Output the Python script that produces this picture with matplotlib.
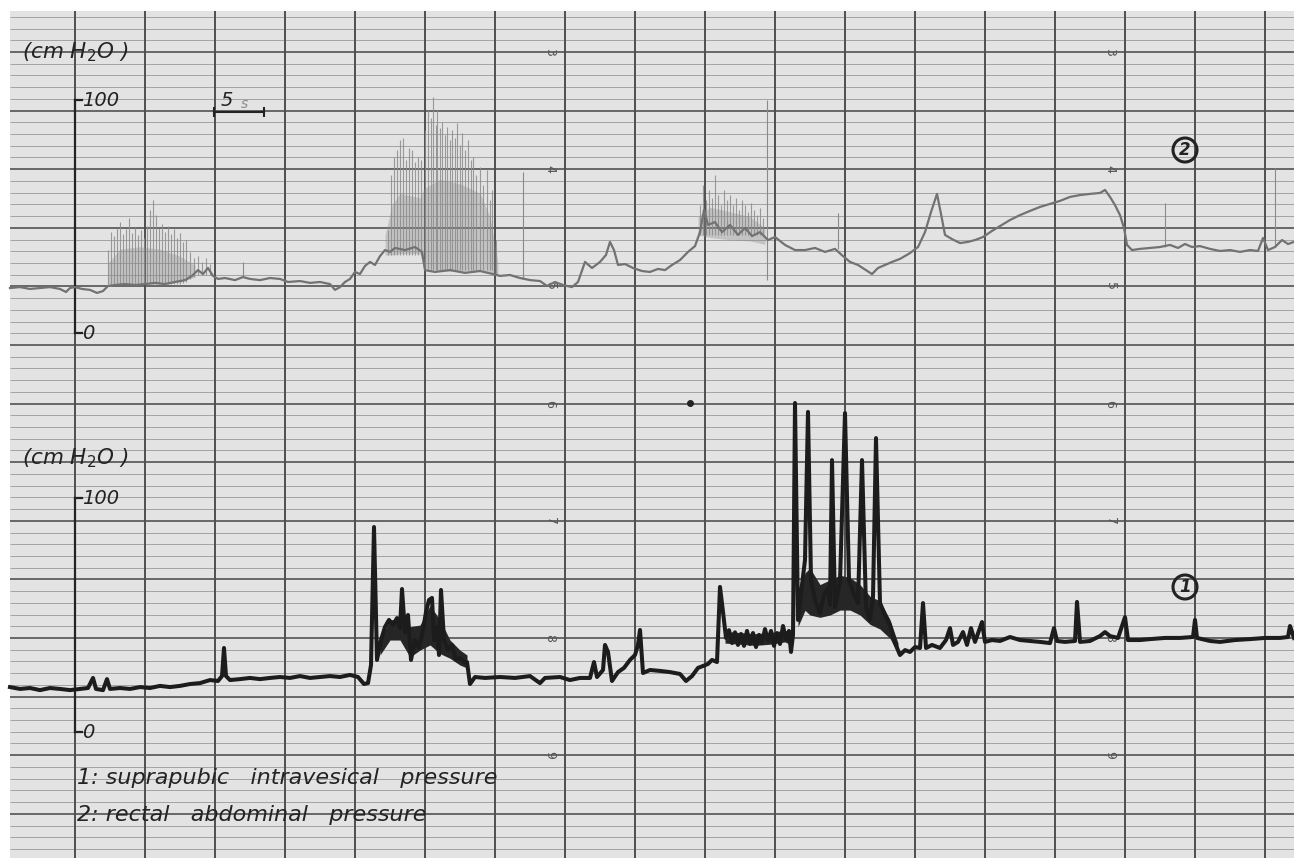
import numpy as np
import matplotlib.pyplot as plt
from matplotlib.patches import Rectangle, Circle

# Recorder strip. Time in s, pressure in cm H2O.

# channel 2: rectal abdominal pressure (grey pen)
rectal_trace = [
    (1.0, 19.3), (2.0, 19.7), (3.0, 18.9), (4.0, 19.3), (5.0, 19.7), (6.0, 18.9), (6.6, 17.6),
    (7.0, 19.3), (7.5, 19.7), (8.2, 18.9), (9.0, 18.5), (9.7, 17.2), (10.3, 18.0), (10.8, 20.2),
    (11.5, 20.6), (12.5, 21.0), (13.5, 20.6), (14.5, 21.0), (15.5, 21.5), (16.5, 21.0), (17.5, 21.9),
    (18.5, 22.7), (19.2, 24.5), (19.8, 27.0), (20.3, 25.3), (20.8, 27.9), (21.3, 24.5), (21.8, 23.2),
    (22.5, 23.6), (23.5, 22.7), (24.3, 24.0), (25.0, 23.2), (26.0, 22.7), (27.0, 23.6), (28.0, 23.2),
    (28.8, 21.9), (30.0, 22.3), (31.0, 21.5), (32.0, 21.9), (33.0, 21.0), (33.5, 18.5), (34.0, 19.7),
    (34.5, 21.9), (35.0, 23.2), (35.5, 26.2), (36.0, 25.3), (36.5, 28.8), (37.0, 30.5), (37.5, 29.2),
    (38.0, 33.0), (38.5, 35.6), (39.0, 34.8), (39.5, 36.5), (40.5, 35.6), (41.5, 36.9), (42.2, 34.8),
    (42.5, 27.0), (43.5, 26.2), (45.0, 27.0), (46.5, 25.8), (48.0, 26.6), (49.3, 25.3), (50.0, 24.5),
    (51.0, 24.9), (52.0, 23.6), (53.0, 22.7), (54.0, 22.3), (54.7, 20.2), (55.5, 21.9), (56.3, 20.6),
    (57.2, 19.7), (57.8, 21.9), (58.5, 30.5), (59.2, 27.9), (60.0, 30.5), (60.6, 33.5), (61.0, 39.1),
    (61.4, 35.6), (61.8, 29.2), (62.5, 29.6), (63.3, 27.9), (64.2, 26.6), (65.0, 26.2), (65.8, 27.5),
    (66.5, 27.0), (67.2, 29.2), (68.0, 31.3), (68.8, 34.8), (69.5, 37.3), (70.0, 43.3), (70.4, 52.8),
    (70.8, 46.4), (71.5, 47.6), (72.2, 43.3), (73.0, 46.4), (73.8, 42.1), (74.5, 45.1), (75.2, 41.6),
    (76.0, 43.3), (76.8, 39.9), (77.5, 41.2), (78.5, 37.8), (79.5, 35.6), (80.5, 35.6), (81.5, 36.5),
    (82.5, 34.8), (83.5, 36.1), (84.3, 33.0), (85.0, 30.5), (85.8, 29.2), (86.6, 27.0), (87.2, 25.3),
    (87.8, 27.9), (88.5, 29.2), (89.2, 30.5), (90.0, 31.8), (91.0, 34.3), (91.8, 36.9), (92.5, 43.3),
    (93.1, 51.9), (93.7, 59.7), (94.1, 51.1), (94.5, 42.1), (95.2, 40.3), (96.0, 38.6), (96.8, 39.1),
    (97.5, 39.9), (98.3, 41.2), (99.2, 43.8), (100.0, 45.9), (101.0, 48.5), (102.0, 50.6), (103.0, 52.4),
    (104.0, 54.1), (105.0, 55.4), (106.0, 56.7), (107.0, 58.4), (108.0, 59.2), (109.0, 59.7),
    (110.0, 60.1), (110.5, 61.4), (111.0, 58.4), (111.5, 54.9), (112.0, 50.6), (112.4, 45.1),
    (112.7, 37.8), (113.2, 35.6), (114.0, 36.1), (115.0, 36.5), (116.0, 36.9), (117.0, 37.8),
    (117.8, 36.5), (118.5, 38.2), (119.2, 36.9), (120.0, 37.3), (121.0, 36.1), (122.0, 35.2),
    (123.0, 35.6), (124.0, 34.8), (125.0, 35.6), (125.8, 35.2), (126.3, 40.8), (126.8, 35.6),
    (127.5, 36.9), (128.2, 39.9), (128.8, 38.2), (129.4, 39.1),
]

# dense lower body (t, low, high) of the fast oscillation episodes on channel 2
rectal_bursts = [
    [(10.8, 20.2, 30.0), (12.0, 21.0, 36.0), (14.0, 21.0, 37.0), (16.0, 21.0, 36.0), (18.0, 21.9, 33.0),
     (19.5, 24.0, 29.0)],
    [(38.5, 33.5, 42.0), (39.2, 33.5, 55.0), (40.0, 34.0, 60.0), (42.0, 34.0, 58.0), (42.4, 28.0, 62.0),
     (44.0, 26.5, 66.0), (46.0, 26.5, 64.0), (48.0, 26.5, 60.0), (49.0, 26.0, 50.0), (49.8, 25.0, 30.0)],
    [(69.8, 42.1, 50.0), (71.0, 41.0, 54.0), (73.0, 40.0, 52.0), (75.0, 39.5, 50.0), (76.5, 38.0, 45.0)],
]

# individual pen strokes of the oscillations on channel 2: (t, low, high)
rectal_strokes = [
    (10.8, 21.0, 35.6), (11.1, 21.0, 43.3), (11.4, 21.0, 41.6), (11.7, 21.0, 45.1), (12.0, 21.0, 47.6),
    (12.3, 21.0, 42.5), (12.6, 21.0, 44.6), (12.9, 21.0, 49.4), (13.2, 21.0, 42.9), (13.5, 21.0, 45.5),
    (13.8, 21.0, 42.1), (14.1, 21.0, 44.2), (14.4, 21.0, 40.8), (14.7, 21.0, 45.9), (15.0, 21.0, 52.8),
    (15.3, 21.0, 57.1), (15.6, 21.0, 50.6), (15.9, 21.0, 45.1), (16.2, 21.0, 46.8), (16.5, 21.0, 43.3),
    (16.8, 21.0, 45.9), (17.1, 21.0, 42.5), (17.4, 21.0, 44.6), (17.7, 21.0, 40.8), (18.0, 21.0, 42.9),
    (18.3, 21.5, 39.1), (18.6, 22.0, 39.9), (19.0, 23.0, 34.8), (19.4, 24.0, 32.2), (19.8, 24.9, 33.0),
    (20.2, 24.9, 30.5), (20.6, 24.9, 32.2), (21.0, 24.9, 29.6),
    (38.8, 33.5, 44.2), (39.1, 33.5, 67.8), (39.4, 33.5, 75.5), (39.7, 33.5, 78.5), (40.0, 33.5, 82.8),
    (40.3, 33.5, 83.7), (40.6, 33.5, 74.2), (40.9, 33.5, 79.4), (41.2, 33.5, 78.5), (41.5, 33.5, 73.4),
    (41.8, 33.5, 75.5), (42.1, 33.5, 74.2), (42.5, 27.0, 87.1), (42.8, 27.0, 95.7), (43.1, 27.0, 92.3),
    (43.3, 27.0, 101.3), (43.6, 27.0, 89.3), (43.7, 27.0, 95.7), (44.0, 27.0, 88.0), (44.2, 27.0, 90.6),
    (44.5, 27.0, 85.0), (44.7, 27.0, 88.4), (45.0, 27.0, 82.8), (45.2, 27.0, 87.1), (45.5, 27.0, 83.7),
    (45.7, 27.0, 90.1), (46.0, 27.0, 80.7), (46.2, 27.0, 85.8), (46.5, 27.0, 78.5), (46.8, 27.0, 82.8),
    (47.1, 27.0, 74.2), (47.3, 27.0, 75.5), (47.6, 27.0, 67.8), (48.0, 27.0, 71.2), (48.3, 27.0, 63.5),
    (48.7, 27.0, 70.0), (49.0, 27.0, 57.1), (49.2, 27.0, 61.4), (49.6, 25.0, 39.9),
    (70.0, 42.1, 54.9), (70.3, 42.1, 63.5), (70.6, 42.1, 57.1), (70.9, 42.1, 61.4), (71.2, 42.1, 57.9),
    (71.5, 42.1, 67.8), (71.8, 42.1, 59.2), (72.1, 42.1, 54.9), (72.4, 42.1, 61.4), (72.7, 42.1, 57.1),
    (73.0, 42.1, 59.2), (73.3, 42.1, 54.9), (73.6, 42.1, 57.9), (73.9, 42.1, 52.8), (74.2, 42.1, 57.1),
    (74.5, 42.1, 54.9), (74.8, 42.1, 51.9), (75.1, 42.1, 55.8), (75.4, 42.1, 52.8), (75.7, 42.1, 50.6),
    (76.0, 42.1, 53.6), (76.3, 42.1, 49.4),
]

# isolated pen strokes on channel 2: (t, low, high)
rectal_spikes = [
    (24.3, 24.0, 30.5), (52.3, 23.6, 69.1), (76.7, 22.7, 100.0), (83.8, 36.1, 51.5),
    (116.5, 36.9, 55.8), (127.5, 36.9, 70.8),
]

# channel 1: suprapubic intravesical pressure (black pen)
vesical_trace = [
    (1.0, 19.2), (2.0, 18.4), (3.0, 18.8), (4.0, 17.9), (5.0, 18.8), (6.0, 18.4), (7.0, 17.9), (8.0, 18.4),
    (8.8, 18.8), (9.3, 23.1), (9.6, 18.4), (10.3, 17.9), (10.7, 22.6), (11.0, 18.4), (12.0, 18.8),
    (13.0, 18.4), (14.0, 19.2), (15.0, 18.8), (16.0, 19.7), (17.0, 19.2), (18.0, 19.7), (19.0, 20.5),
    (20.0, 20.9), (21.0, 22.2), (21.8, 21.8), (22.2, 23.9), (22.4, 35.9), (22.6, 23.9), (23.0, 22.2),
    (24.0, 22.6), (25.0, 23.1), (26.0, 22.6), (27.0, 23.1), (28.0, 23.5), (29.0, 23.1), (30.0, 23.9),
    (31.0, 23.1), (32.0, 23.5), (33.0, 23.9), (34.0, 23.5), (35.0, 24.4), (35.8, 23.5), (36.4, 20.5),
    (36.8, 20.9), (37.1, 28.6), (37.4, 87.6), (37.7, 30.8), (38.1, 39.3), (38.5, 44.9), (38.9, 47.9),
    (39.3, 45.7), (39.7, 48.7), (40.0, 44.4), (40.2, 61.1), (40.5, 42.7), (40.8, 50.0), (41.1, 30.8),
    (41.5, 39.3), (41.9, 35.9), (42.3, 43.6), (42.6, 51.3), (42.9, 56.4), (43.2, 57.3), (43.4, 39.3),
    (43.7, 44.9), (43.9, 32.9), (44.1, 60.7), (44.4, 39.3), (44.8, 35.0), (45.2, 37.2), (45.6, 30.8),
    (46.0, 31.6), (46.4, 29.9), (46.7, 29.9), (47.0, 20.5), (47.5, 23.5), (48.5, 23.1), (50.0, 23.5),
    (51.5, 23.1), (53.0, 23.9), (54.0, 20.9), (54.5, 23.1), (56.0, 23.5), (57.0, 22.2), (58.0, 23.1),
    (59.0, 23.1), (59.4, 29.9), (59.7, 23.5), (60.3, 26.5), (60.5, 37.2), (60.8, 34.2), (61.2, 21.8),
    (61.8, 25.6), (62.4, 27.4), (63.0, 30.8), (63.5, 32.9), (63.8, 37.2), (64.0, 43.6), (64.3, 25.2),
    (65.0, 26.5), (66.0, 26.1), (67.0, 25.6), (68.0, 24.8), (68.6, 21.8), (69.2, 23.9), (69.8, 27.4),
    (70.3, 28.2), (70.8, 29.1), (71.2, 30.8), (71.7, 29.9), (72.0, 62.0), (72.3, 51.3), (72.6, 40.2),
    (72.9, 43.5), (73.2, 38.0), (73.5, 42.6), (73.8, 37.2), (74.1, 41.9), (74.4, 36.8), (74.7, 43.2),
    (75.0, 37.6), (75.3, 42.3), (75.6, 36.3), (75.9, 41.5), (76.2, 38.0), (76.5, 44.0), (76.8, 38.9),
    (77.1, 43.2), (77.4, 36.8), (77.7, 42.3), (78.0, 37.6), (78.3, 45.3), (78.6, 39.7), (78.9, 43.2),
    (79.1, 34.2), (79.3, 41.5),
    (79.5, 140.6), (79.8, 47.9), (80.2, 62.8), (80.5, 73.5), (80.8, 136.8), (81.1, 65.0), (81.5, 56.4),
    (82.0, 50.9), (82.4, 58.5), (82.8, 61.5), (83.0, 54.3), (83.2, 116.2), (83.5, 53.4), (84.0, 64.1),
    (84.5, 136.3), (84.9, 65.0), (85.3, 59.8), (85.8, 55.1), (86.2, 116.2), (86.6, 53.4), (87.0, 47.9),
    (87.3, 57.7), (87.6, 125.6), (88.0, 55.1), (88.5, 50.0), (89.0, 45.7), (89.5, 38.0), (90.0, 32.9),
    (90.5, 35.0), (91.0, 34.2), (91.5, 36.3), (92.0, 35.9), (92.3, 55.1), (92.6, 35.9), (93.2, 37.2),
    (94.0, 35.9), (94.6, 39.3), (95.0, 44.4), (95.3, 37.2), (95.8, 38.5), (96.3, 42.7), (96.7, 37.2),
    (97.1, 44.4), (97.5, 38.5), (98.2, 47.0), (98.5, 38.5), (99.2, 39.3), (100.0, 38.9), (101.0, 40.6),
    (102.0, 39.3), (103.0, 38.9), (104.0, 38.5), (105.0, 38.0), (105.4, 44.4), (105.7, 38.9),
    (106.5, 38.5), (107.5, 38.9), (107.7, 55.6), (108.0, 38.5), (109.0, 38.9), (110.0, 41.0),
    (110.5, 42.7), (111.0, 41.0), (111.8, 40.2), (112.5, 49.1), (112.8, 39.3), (114.0, 39.3),
    (115.0, 39.7), (116.5, 40.2), (118.0, 40.2), (119.3, 40.6), (119.5, 47.9), (119.7, 40.2),
    (121.0, 38.9), (122.0, 38.5), (123.5, 39.3), (125.0, 39.7), (126.5, 40.2), (128.0, 40.2),
    (128.8, 40.6), (129.0, 45.3), (129.4, 40.2),
]

# dark body (t, low, high) of the noisy episodes on channel 1
vesical_bursts = [
    [(38.0, 32.9, 39.3), (39.0, 39.3, 48.0), (40.0, 39.3, 48.0), (41.0, 32.0, 45.0), (42.0, 35.0, 45.7),
     (43.0, 37.2, 54.0), (44.0, 33.5, 48.0), (45.0, 31.5, 39.3), (46.0, 28.6, 35.0), (46.7, 27.4, 32.9)],
    [(72.5, 38.0, 43.0), (74.0, 37.5, 42.5), (75.5, 37.0, 42.0), (77.0, 37.5, 42.5), (78.5, 38.5, 43.5),
     (79.2, 37.0, 42.0)],
    [(79.8, 45.0, 55.0), (80.5, 52.0, 68.0), (81.0, 50.0, 70.0), (82.0, 49.0, 63.0), (83.0, 50.0, 65.0),
     (84.0, 52.1, 67.0), (85.0, 52.1, 66.0), (86.0, 50.0, 63.0), (87.0, 46.0, 58.0), (88.0, 44.0, 56.0),
     (89.0, 40.0, 48.0), (89.8, 33.5, 38.0)],
]

paper_numbers = ['3', '4', '5', '6', '7', '8', '9']
scale_labels = ['0', '100']
legend_lines = ['1: suprapubic   intravesical   pressure', '2: rectal   abdominal   pressure']

# ---- layout (pixels of the scanned strip) ----
W, H = 1294, 858
PX_PER_S = 10.0
INK = '#232323'

fig = plt.figure(figsize=(W / 100, H / 100), dpi=100)
bg = fig.add_axes([0, 0, 1, 1])
bg.set_xlim(0, W)
bg.set_ylim(H, 0)
bg.axis('off')

# chart paper
bg.add_patch(Rectangle((10, 11), W - 10, H - 11, facecolor='#e3e3e3', edgecolor='none', zorder=0))
for k in range(-3, 70):
    y = 52 + 11.72 * k
    if y > H:
        break
    major = k % 5 == 0
    bg.hlines(y, 10, W, color='#5e5e5e' if major else '#a2a2a2', lw=1.3 if major else 0.7, zorder=1)
for x in np.arange(75, W, 70):
    bg.vlines(x, 11, H, color='#4e4e4e', lw=1.4, zorder=1)
for i, s in enumerate(paper_numbers):
    for x in (550, 1110):
        bg.text(x, 52 + 117.2 * i, s, rotation=-90, ha='center', va='center', fontsize=9,
                color='#555555', zorder=2)
bg.plot(690, 403, 'o', ms=4, color=INK, zorder=2)


def channel_axes(zero_px, full_px):
    ax = fig.add_axes([0, 0, 1, 1])
    ax.patch.set_alpha(0)
    per = (zero_px - full_px) / 100.0
    ax.set_ylim((zero_px - H) / per, zero_px / per)
    ax.set_xlim(0, W / PX_PER_S)
    ax.axis('off')
    return ax


ax2 = channel_axes(333, 100)
ax1 = channel_axes(732, 498)

# pressure scale bars and units
for ax, unit_y in ((ax2, 52), (ax1, 458)):
    ax.plot([7.5, 7.5], [0, 100], color=INK, lw=1.6)
    ax.plot([7.5, 8.2], [100, 100], color=INK, lw=1.6)
    ax.plot([7.5, 8.2], [0, 0], color=INK, lw=1.6)
    for lab, v in zip(scale_labels, (0, 100)):
        ax.text(8.2, v, lab, ha='left', va='center', fontsize=14, style='italic', color=INK)
    bg.text(22, unit_y, '(cm H$_2$O )', ha='left', va='center', fontsize=15.5, style='italic', color=INK)

# time scale
bg.plot([214, 214 + 5 * PX_PER_S], [112, 112], color=INK, lw=1.5)
bg.vlines([214, 214 + 5 * PX_PER_S], 107, 117, color=INK, lw=1.5)
bg.text(221, 100, '5', ha='left', va='center', fontsize=14, style='italic', color=INK)
bg.text(241, 104, 's', ha='left', va='center', fontsize=10, style='italic', color='#8a8a8a')

# channel 2 trace
for burst in rectal_bursts:
    bt, blo, bhi = np.array(burst).T
    ax2.fill_between(bt, blo, bhi, color='#8a8a8a', alpha=0.35, lw=0)
kt, klo, khi = np.array(rectal_strokes).T
ax2.vlines(kt, klo, khi, color='#8c8c8c', lw=0.8, alpha=0.85)
st, slo, shi = np.array(rectal_spikes).T
ax2.vlines(st, slo, shi, color='#8a8a8a', lw=0.8)
rt, rp = np.array(rectal_trace).T
ax2.plot(rt, rp, color='#727272', lw=1.6, solid_joinstyle='round')

# channel 1 trace
for burst in vesical_bursts:
    bt, blo, bhi = np.array(burst).T
    ax1.fill_between(bt, blo, bhi, color='#262626', lw=0)
vt, vp = np.array(vesical_trace).T
ax1.plot(vt, vp, color='#1c1c1c', lw=2.9, solid_joinstyle='round')

# circled channel numbers
for cy, num in ((150, '2'), (587, '1')):
    bg.add_patch(Circle((1185, cy), 12, fill=False, lw=2.2, ec=INK, zorder=3))
    bg.text(1185, cy, num, ha='center', va='center', fontsize=12, style='italic', fontweight='bold',
            color=INK, zorder=3)

for i, line in enumerate(legend_lines):
    bg.text(77, 778 + 37 * i, line, ha='left', va='center', fontsize=16, style='italic', color=INK)

fig.savefig('out.png', dpi=100, facecolor='white')
